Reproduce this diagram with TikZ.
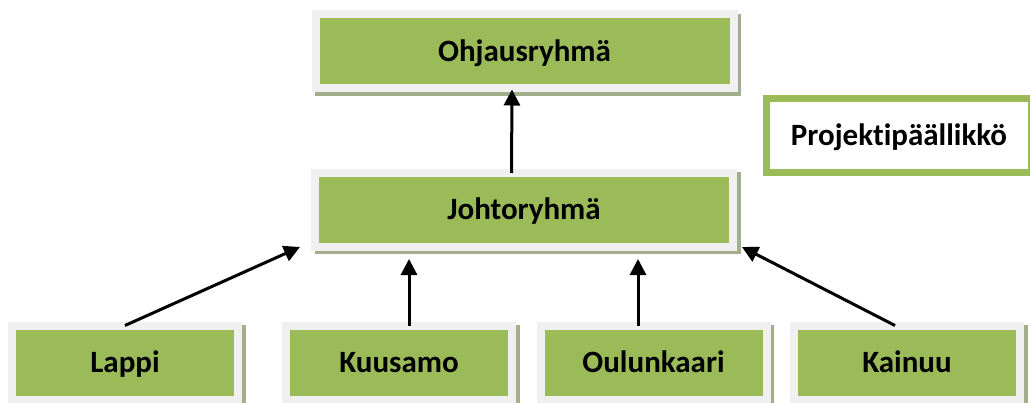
\documentclass[tikz,border=0pt]{standalone}
\usepackage{fontspec}
\setmainfont{Carlito}[Ligatures=NoCommon]
\usetikzlibrary{arrows.meta,backgrounds,calc}
\definecolor{boxgreen}{HTML}{9BBB59}
\definecolor{boxgray}{HTML}{F0F0F0}
\definecolor{shadowc}{HTML}{A3AF8C}
\begin{document}
\begin{tikzpicture}[x=1pt,y=-1pt,
  unit/.style={rectangle, fill=boxgreen, draw=boxgray, line width=8pt, outer sep=0pt, inner sep=0pt,
    minimum height=74pt, text height=20pt, text depth=0pt, font=\fontsize{31}{36}\selectfont\bfseries},
  wide/.style={unit, minimum width=418pt},
  small/.style={unit, minimum width=226pt},
  lead/.style={rectangle, draw=boxgreen, fill=white, line width=7pt, outer sep=0pt, inner sep=0pt,
    minimum width=265pt, minimum height=74pt, text height=20pt, text depth=0pt, font=\fontsize{31}{36}\selectfont\bfseries},
  arr/.style={line width=3pt, -{Triangle[length=16pt,width=16pt]}}]
\useasboundingbox (0,0) rectangle (1030,403);

\node[wide] (ohj) at (524.5,51.5) {Ohjausryhmä};
\node[wide] (joh) at (524,210) {Johtoryhmä};
\node[small] (lap) at (125,362.5) {Lappi};
\node[small] (kuu) at (399,362.5) {Kuusamo};
\node[small] (oul) at (653.5,362.5) {Oulunkaari};
\node[small] (kai) at (907,362.5) {Kainuu};
\node[lead] (pp) at (899,135.5) {Projektipäällikkö};

\begin{scope}[on background layer]
\foreach \n in {ohj,joh,lap,kuu,oul,kai}
  \fill[shadowc] ($(\n.south west)+(-0.5pt,-7.5pt)$) rectangle ($(\n.north east)+(7.5pt,0.5pt)$);
\end{scope}

\draw[arr] (lap.north) -- ($(joh.south west)+(-15pt,0pt)$);
\draw[arr] ([xshift=10pt]kuu.north) -- ($(kuu.north |- joh.south)+(10pt,-12pt)$);
\draw[arr] ([xshift=-15.5pt]oul.north) -- ($(oul.north |- joh.south)+(-15.5pt,-12pt)$);
\draw[arr] ([xshift=-12pt]kai.north) -- ($(joh.south east)+(9pt,0pt)$);
\draw[arr] ([xshift=-12.5pt]joh.north) -- ($(ohj.south)+(-12.5pt,-1pt)$);
\end{tikzpicture}
\end{document}
